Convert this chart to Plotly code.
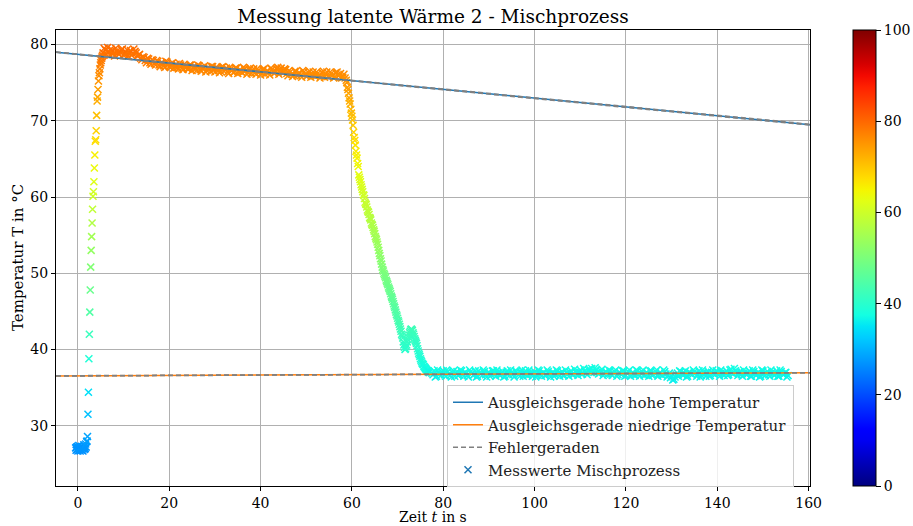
import numpy as np
import plotly.graph_objects as go

# ---------------- data ----------------
# start: cold water, sampled every 0.1 s from t = -0.5 s
t_start0 = -0.5
dt_fast = 0.1
temp_start = [27.1, 26.8, 27.2, 26.9, 27.3, 26.7, 27.0, 27.4, 26.8, 27.1,
              26.7, 27.2, 26.9, 27.3, 26.8, 27.0, 26.7, 27.2, 27.5, 26.9,
              27.3, 27.0, 27.6, 27.2, 27.9, 28.0]

# rise, sampled every 0.1 s from t = 2.1 s
t_rise0 = 2.1
temp_rise = [28.6, 31.5, 34.4, 38.8, 42.0, 44.9, 47.8, 50.8, 53.0, 54.8,
             56.6, 58.4, 60.1, 60.7, 62.0, 63.8, 65.5, 67.3, 67.5, 68.7,
             70.7, 72.6, 73.1, 74.1, 75.2, 75.9, 76.3, 76.8, 77.3, 77.6,
             77.9, 78.2, 78.4, 78.6]

# high plateau, every 0.5 s from t = 5.5 s, plus interleaved samples from t = 5.75 s
t_high0 = 5.5
t_high0_b = 5.75
dt_slow = 0.5
temp_high = [78.9, 79.3, 79.6, 78.6, 79.2, 78.5, 79.1, 78.7, 79.3, 78.6,
             79.0, 78.5, 79.2, 78.8, 79.1, 78.5, 78.7, 78.0, 78.3, 77.6,
             78.1, 77.4, 77.9, 77.3, 77.8, 77.1, 77.6, 77.0, 77.7, 77.1,
             77.5, 76.9, 77.4, 76.8, 77.3, 76.7, 77.2, 76.8, 77.3, 76.6,
             77.1, 76.6, 77.2, 76.5, 77.0, 76.4, 77.0, 76.5, 77.1, 76.4,
             76.9, 76.3, 77.0, 76.5, 76.9, 76.2, 76.8, 76.3, 76.9, 76.2,
             76.7, 76.3, 76.8, 76.1, 76.7, 76.2, 76.8, 76.1, 76.6, 76.0,
             76.7, 76.1, 76.6, 76.0, 76.7, 76.2, 76.8, 76.1, 76.9, 76.3,
             76.7, 75.9, 76.4, 75.8, 76.5, 75.9, 76.3, 75.7, 76.4, 75.8,
             76.3, 75.7, 76.4, 75.8, 76.2, 75.6, 76.3, 75.7, 76.4, 75.8,
             76.2, 75.6, 76.3, 75.9, 76.2, 75.7, 75.6]
temp_high_b = [79.5, 78.7, 79.1, 79.4, 78.8, 79.5, 78.9, 79.0, 79.4, 78.7,
               79.3, 78.9, 78.6, 79.4, 78.9, 78.6, 78.2, 78.4, 77.9, 78.2,
               77.6, 78.0, 77.5, 77.9, 77.3, 77.6, 77.2, 77.8, 77.3, 77.0,
               77.6, 77.1, 77.0, 77.5, 76.9, 77.4, 77.0, 76.8, 77.3, 77.0,
               76.8, 77.3, 76.7, 76.9, 77.2, 76.6, 76.8, 77.1, 76.7, 77.0,
               76.6, 76.5, 77.1, 76.7, 76.4, 77.0, 76.6, 76.4, 76.9, 76.5,
               76.4, 77.0, 76.6, 76.3, 76.9, 76.5, 76.3, 76.8, 76.4, 76.3,
               76.8, 76.4, 76.3, 76.9, 76.5, 76.4, 77.0, 76.6, 76.5, 76.8,
               76.2, 76.6, 76.1, 76.0, 76.5, 76.2, 75.9, 76.6, 76.1, 75.9,
               76.5, 76.0, 75.9, 76.4, 76.0, 75.8, 76.5, 76.1, 75.8, 76.4,
               76.0, 75.7, 76.4, 76.0, 75.6, 76.1]

# drop, every 0.25 s from t = 58.75 s, plus interleaved samples from t = 58.875 s
t_drop0 = 58.75
t_drop0_b = 58.875
dt_drop = 0.25
temp_drop = [75.3, 74.4, 73.6, 72.6, 71.5, 70.6, 69.4, 67.8, 66.8, 65.5,
             64.4, 62.9, 62.3, 61.6, 61.0, 60.3, 59.8, 59.1, 58.7, 58.1,
             57.7, 57.2, 56.6, 56.3, 55.7, 55.2, 54.6, 54.1, 53.4, 52.6,
             51.9, 51.2, 50.5, 50.0, 49.6, 49.1, 48.7, 48.2, 47.8, 47.3,
             46.8, 46.3, 45.7, 45.2, 44.6, 44.1, 43.6, 43.0, 42.4, 41.8,
             41.0, 40.3, 40.1, 40.6, 41.3, 41.9, 42.4, 42.7, 42.5, 42.0,
             41.4, 41.0, 40.5, 39.8, 39.3, 38.8, 38.4, 38.1, 37.8, 37.6,
             37.4, 37.2, 37.1, 37.0]
temp_drop_b = [75.0, 74.1, 73.0, 72.2, 71.0, 70.1, 68.5, 67.4, 66.0, 65.1,
               64.0, 62.6, 62.0, 61.3, 60.7, 60.2, 59.3, 59.0, 58.3, 58.0,
               57.3, 57.0, 56.4, 56.0, 55.5, 54.8, 54.4, 53.8, 53.0, 52.3,
               51.6, 50.8, 50.3, 49.8, 49.4, 48.9, 48.5, 48.0, 47.6, 47.0,
               46.6, 46.0, 45.5, 44.9, 44.4, 43.8, 43.3, 42.7, 42.0, 41.5,
               40.6, 40.0, 40.4, 41.0, 41.6, 42.2, 42.6, 42.6, 42.2, 41.7,
               41.2, 40.8, 40.1, 39.5, 39.1, 38.6, 38.2, 38.0, 37.7, 37.5,
               37.3, 37.2, 37.0]

# low plateau (mixed), every 0.5 s from t = 77.5 s, plus interleaved samples from 77.75 s
t_low0 = 77.5
t_low0_b = 77.75
temp_low = [36.9, 37.2, 36.5, 37.0, 36.6, 37.2, 36.5, 37.1, 36.6, 37.0,
            36.5, 37.1, 36.7, 37.2, 36.5, 36.9, 36.4, 37.1, 36.6, 37.2,
            36.5, 37.0, 36.6, 37.1, 36.4, 37.0, 36.7, 37.2, 36.5, 36.9,
            36.6, 37.1, 36.5, 37.2, 36.6, 37.0, 36.4, 37.1, 36.7, 37.0,
            36.5, 37.2, 36.6, 36.9, 36.5, 37.1, 36.6, 37.2, 36.5, 37.0,
            36.6, 37.1, 36.4, 37.0, 36.7, 37.2, 36.5, 37.1, 36.6, 36.9,
            36.5, 37.2, 36.7, 37.1, 36.6, 37.3, 36.8, 37.2, 36.7, 37.4,
            37.5, 37.0, 37.3, 36.8, 37.2, 36.6, 37.1, 36.7, 37.2, 36.6,
            37.1, 36.5, 37.0, 36.7, 37.2, 36.6, 37.1, 36.5, 37.0, 36.6,
            37.2, 36.5, 37.1, 36.6, 37.0, 36.5, 37.2, 36.7, 37.1, 36.5,
            37.0, 36.6, 37.1, 36.4, 36.9, 36.5, 36.1, 36.7, 36.5, 37.1,
            36.6, 37.2, 36.5, 37.0, 36.7, 37.1, 36.5, 37.2, 36.6, 37.0,
            36.5, 37.1, 36.6, 37.3, 36.7, 37.1, 36.5, 37.0, 36.6, 37.2,
            36.7, 37.4, 36.8, 37.2, 36.6, 37.1, 36.5, 37.0, 36.7, 37.2,
            36.5, 37.1, 36.6, 37.0, 36.5, 37.2, 36.6, 37.1, 36.5, 37.0,
            36.6, 37.2, 36.5, 37.1, 36.7, 37.0, 36.6]
temp_low_b = [36.7, 36.4, 37.3, 36.8, 37.0, 36.7, 37.3, 36.8, 36.4, 37.2,
              36.9, 36.6, 37.3, 36.8, 37.0, 36.6, 37.3, 36.9, 36.7, 36.4,
              37.2, 36.8, 37.3, 36.7, 36.9, 36.5, 37.2, 36.8, 37.3, 36.7,
              36.9, 36.4, 37.0, 36.8, 37.3, 36.7, 37.2, 36.9, 36.5, 37.3,
              36.8, 36.7, 37.3, 36.8, 36.9, 36.4, 37.3, 36.8, 36.9, 36.6,
              37.3, 36.8, 36.9, 36.5, 37.3, 36.8, 36.9, 36.6, 37.3, 36.8,
              37.0, 36.7, 37.4, 36.9, 37.0, 36.8, 37.5, 37.0, 37.3, 37.0,
              37.2, 37.6, 37.0, 36.9, 37.4, 36.8, 37.0, 37.3, 36.8, 36.9,
              37.3, 36.7, 36.9, 37.2, 36.5, 36.9, 37.3, 36.8, 36.7, 37.3,
              36.8, 36.9, 37.3, 36.7, 36.8, 37.2, 36.6, 36.9, 37.3, 36.8,
              36.7, 37.3, 36.8, 36.6, 36.3, 36.0, 36.4, 36.9, 37.2, 36.8,
              36.9, 36.4, 37.0, 36.8, 37.3, 36.9, 36.7, 36.4, 37.3, 36.8,
              36.9, 36.5, 37.0, 36.8, 37.2, 36.9, 37.3, 36.8, 36.9, 36.6,
              37.3, 36.9, 37.5, 37.0, 36.9, 36.7, 37.3, 36.8, 36.9, 36.5,
              37.3, 36.8, 36.9, 36.4, 37.3, 36.8, 36.9, 36.7, 37.3, 36.8,
              36.9, 36.5, 37.3, 36.8, 36.9, 36.4]

# fit lines: (intercept, slope)
fit_high = (78.72, -0.0576)
fit_high_err = [(78.75, -0.0574), (78.69, -0.0578)]
fit_low = (36.55, 0.0025)
fit_low_err = [(36.57, 0.0024), (36.53, 0.0026)]

x_range = [-4.8, 160.3]
y_range = [22.1, 81.9]
x_ticks = [0, 20, 40, 60, 80, 100, 120, 140, 160]
y_ticks = [30, 40, 50, 60, 70, 80]
c_ticks = [0, 20, 40, 60, 80, 100]

# ---------------- assemble ----------------
def seg(t0, dt, vals):
    return [t0 + dt * i for i in range(len(vals))], list(vals)

zeit, temp = [], []
for t0, dt, vals in [(t_start0, dt_fast, temp_start), (t_rise0, dt_fast, temp_rise),
                     (t_high0, dt_slow, temp_high), (t_high0_b, dt_slow, temp_high_b),
                     (t_drop0, dt_drop, temp_drop), (t_drop0_b, dt_drop, temp_drop_b),
                     (t_low0, dt_slow, temp_low), (t_low0_b, dt_slow, temp_low_b)]:
    ts, vs = seg(t0, dt, vals)
    zeit += ts
    temp += vs

# matplotlib 'jet' colormap
def jet_scale(n=41):
    out = []
    for i in range(n):
        v = i / (n - 1)
        r = np.interp(v, [0, 0.35, 0.66, 0.89, 1], [0, 0, 1, 1, 0.5])
        g = np.interp(v, [0, 0.125, 0.375, 0.64, 0.91, 1], [0, 0, 1, 1, 0, 0])
        b = np.interp(v, [0, 0.11, 0.34, 0.65, 1], [0.5, 1, 1, 0, 0])
        out.append([v, f"rgb({int(r*255)},{int(g*255)},{int(b*255)})"])
    return out

JET = jet_scale()
FONT = "DejaVu Serif"
FS = 15
FS_TICK = 14

# plot area in pixels
M_L, M_R, M_T, M_B = 56, 103, 30, 40
PW = 913 - M_L - M_R
PH = 526 - M_T - M_B

fig = go.Figure()

fig.add_trace(go.Scatter(
    x=zeit, y=temp, mode="markers", showlegend=False,
    marker=dict(symbol="x-thin", size=7, color=temp, colorscale=JET, cmin=0, cmax=100,
                line=dict(width=1.5, color=temp, colorscale=JET, cmin=0, cmax=100),
                showscale=True,
                colorbar=dict(x=(852.7 - M_L) / PW, xanchor="left", xpad=0, ypad=0,
                              y=0.5, yanchor="middle",
                              len=1, lenmode="fraction", thickness=23,
                              outlinewidth=1, outlinecolor="black",
                              ticks="outside", ticklen=5, tickcolor="black",
                              tickvals=c_ticks,
                              tickfont=dict(family=FONT, size=FS_TICK, color="black"))),
))

xl = np.array(x_range)
fig.add_trace(go.Scatter(x=xl, y=fit_high[0] + fit_high[1] * xl, mode="lines",
                         line=dict(color="#1f77b4", width=1.5),
                         name="Ausgleichsgerade hohe Temperatur", legendrank=1))
fig.add_trace(go.Scatter(x=xl, y=fit_low[0] + fit_low[1] * xl, mode="lines",
                         line=dict(color="#ff7f0e", width=1.5),
                         name="Ausgleichsgerade niedrige Temperatur", legendrank=2))
first = True
for a, b in fit_high_err + fit_low_err:
    fig.add_trace(go.Scatter(x=xl, y=a + b * xl, mode="lines",
                             line=dict(color="grey", width=1.5, dash="5px,3px"),
                             name="Fehlergeraden", legendgroup="err",
                             showlegend=first, legendrank=3))
    first = False

fig.add_trace(go.Scatter(x=[None], y=[None], mode="markers",
                         marker=dict(symbol="x-thin", size=7, color="#1f77b4",
                                     line=dict(width=1.5, color="#1f77b4")),
                         name="Messwerte Mischprozess", legendrank=4))

axis_common = dict(showgrid=True, gridcolor="#b0b0b0", gridwidth=1,
                   showline=True, mirror=True, linecolor="black", linewidth=1,
                   ticks="outside", ticklen=4, tickcolor="black", zeroline=False,
                   tickfont=dict(family=FONT, size=FS_TICK, color="black"))

fig.update_layout(
    width=913, height=526, autosize=False,
    margin=dict(l=M_L, r=M_R, t=M_T, b=M_B, autoexpand=False),
    paper_bgcolor="white", plot_bgcolor="white",
    title=dict(text="Messung latente Wärme 2 - Mischprozess",
               font=dict(family=FONT, size=18.5, color="black"),
               x=0.5, xref="paper", xanchor="center",
               y=1 - 17 / 526, yref="container", yanchor="middle"),
    xaxis=dict(range=x_range, tickvals=x_ticks, **axis_common),
    yaxis=dict(range=y_range, tickvals=y_ticks, **axis_common),
    legend=dict(x=(447 - M_L) / PW, y=(526 - M_B - 385) / PH, xanchor="left", yanchor="top",
                bgcolor="rgba(255,255,255,0.8)", bordercolor="#cccccc", borderwidth=1,
                font=dict(family=FONT, size=FS, color="#222222"), tracegroupgap=0),
    annotations=[
        dict(text="Zeit <i>t</i> in s", x=0.5, xref="paper",
             y=-(516.5 - (526 - M_B)) / PH, yref="paper",
             xanchor="center", yanchor="middle", showarrow=False,
             font=dict(family=FONT, size=14, color="black")),
        dict(text="Temperatur T in °C", x=-(M_L - 18) / PW, xref="paper", y=0.5, yref="paper",
             xanchor="center", yanchor="middle", textangle=-90, showarrow=False,
             font=dict(family=FONT, size=FS, color="black")),
    ],
)

fig.write_html("out.html")
